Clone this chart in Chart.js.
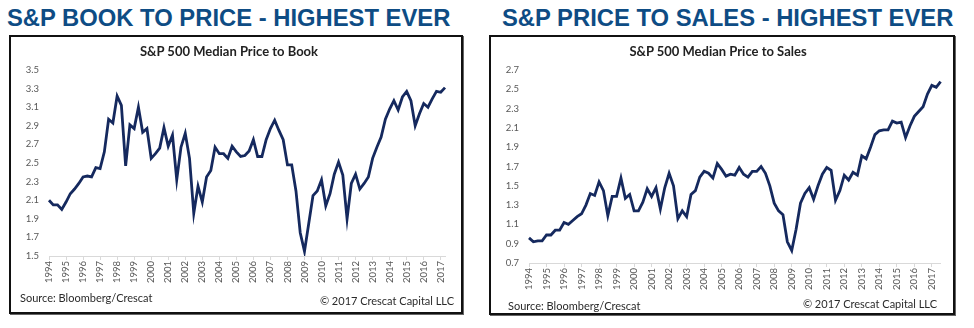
<!DOCTYPE html>
<html>
<head>
<meta charset="utf-8">
<script src="https://cdn.jsdelivr.net/npm/chart.js@4/dist/chart.umd.min.js"></script>
<style>
  html, body { margin: 0; padding: 0; background: #fff; }
  body { width: 974px; height: 328px; position: relative; overflow: hidden; }
  .headline {
    position: absolute; top: 4px; margin: 0;
    font: bold 23.8px "Liberation Sans", Arial, sans-serif;
    color: #0e4c84; white-space: nowrap; line-height: 28px;
  }
  .panel {
    position: absolute; top: 35px; box-sizing: border-box;
    border: 2px solid #111; box-shadow: 1px 1px 0 #666;
    background: #fff;
  }
  .panel canvas { position: absolute; }
  .inner-title {
    position: absolute; font: bold 13px Lato, "Open Sans", sans-serif;
    color: #222; white-space: nowrap; transform: translate(-50%, -50%);
  }
  .note {
    position: absolute; font: 11px Lato, "Open Sans", sans-serif;
    color: #2a2a2a; white-space: nowrap; transform: translateY(-50%);
  }
</style>
</head>
<body>
<div class="headline" style="left:7px">S&amp;P BOOK TO PRICE - HIGHEST EVER</div>
<div class="headline" style="left:502px">S&amp;P PRICE TO SALES - HIGHEST EVER</div>

<div class="panel" style="left:9px; width:454px; height:279px">
  <canvas id="pbChart" width="450" height="275" style="left:0;top:0;width:450px;height:275px"></canvas>
</div>
<div class="panel" style="left:489px; width:466px; height:280px">
  <canvas id="psChart" width="462" height="276" style="left:0;top:0;width:462px;height:276px"></canvas>
</div>

<div class="inner-title" style="left:229px; top:51px">S&amp;P 500 Median Price to Book</div>
<div class="inner-title" style="left:718px; top:51px">S&amp;P 500 Median Price to Sales</div>
<div class="note" style="left:20px; top:297px">Source: Bloomberg/Crescat</div>
<div class="note" style="right:520px; top:300px">© 2017 Crescat Capital LLC</div>
<div class="note" style="left:508px; top:305px">Source: Bloomberg/Crescat</div>
<div class="note" style="right:37px; top:303px">© 2017 Crescat Capital LLC</div>

<script>
// Years shown on the category axis (one label per year, quarterly points)
const years = [1994, 1995, 1996, 1997, 1998, 1999, 2000, 2001, 2002, 2003, 2004, 2005,
               2006, 2007, 2008, 2009, 2010, 2011, 2012, 2013, 2014, 2015, 2016, 2017];

// S&P 500 median price to book, quarterly from 1994 Q1
const priceToBook = [
  2.10, 2.05, 2.05, 2.00, 2.08, 2.17, 2.22, 2.28, 2.35, 2.36, 2.35, 2.45,
  2.44, 2.62, 2.97, 2.93, 3.22, 3.12, 2.47, 2.91, 2.87, 3.10, 2.83, 2.87,
  2.55, 2.60, 2.66, 2.88, 2.68, 2.80, 2.32, 2.67, 2.82, 2.55, 1.96, 2.25,
  2.08, 2.35, 2.42, 2.67, 2.60, 2.60, 2.55, 2.68, 2.62, 2.57, 2.58, 2.63,
  2.75, 2.57, 2.57, 2.75, 2.87, 2.96, 2.85, 2.75, 2.48, 2.48, 2.20, 1.75,
  1.55, 1.85, 2.15, 2.20, 2.32, 2.04, 2.17, 2.38, 2.51, 2.37, 1.90, 2.28,
  2.38, 2.22, 2.28, 2.35, 2.55, 2.67, 2.78, 2.97, 3.08, 3.17, 3.07, 3.21,
  3.27, 3.17, 2.90, 3.03, 3.14, 3.10, 3.19, 3.27, 3.26, 3.31
];

// S&P 500 median price to sales, quarterly from 1994 Q1
const priceToSales = [
  0.96, 0.92, 0.93, 0.93, 0.99, 0.99, 1.04, 1.04, 1.12, 1.10, 1.14, 1.18,
  1.21, 1.30, 1.42, 1.40, 1.54, 1.45, 1.19, 1.39, 1.39, 1.58, 1.37, 1.41,
  1.24, 1.24, 1.33, 1.47, 1.39, 1.48, 1.26, 1.48, 1.63, 1.50, 1.16, 1.24,
  1.18, 1.41, 1.45, 1.59, 1.65, 1.63, 1.58, 1.73, 1.67, 1.60, 1.62, 1.61,
  1.69, 1.62, 1.59, 1.65, 1.65, 1.70, 1.63, 1.50, 1.32, 1.24, 1.20, 0.92,
  0.83, 1.05, 1.32, 1.42, 1.48, 1.36, 1.50, 1.62, 1.69, 1.66, 1.35, 1.45,
  1.61, 1.56, 1.64, 1.61, 1.81, 1.78, 1.90, 2.03, 2.07, 2.08, 2.08, 2.17,
  2.15, 2.16, 2.00, 2.12, 2.22, 2.27, 2.32, 2.45, 2.54, 2.52, 2.58
];

// Y axis ranges and step
const pbAxis = { min: 1.5, max: 3.5, step: 0.2 };
const psAxis = { min: 0.7, max: 2.7, step: 0.2 };

const LINE_COLOR = '#15295e';
const TICK_COLOR = '#595959';
const AXIS_COLOR = '#d9d9d9';
const TICK_FONT = { family: 'Lato, "Open Sans", sans-serif', size: 9.5 };

function quarterLabels(series) {
  return series.map((_, i) => years[Math.floor(i / 4)] + ' Q' + (i % 4 + 1));
}

function makeChart(id, series, axis, geom) {
  const labels = quarterLabels(series);
  return new Chart(document.getElementById(id), {
    type: 'line',
    data: {
      labels,
      datasets: [{
        data: series,
        borderColor: LINE_COLOR,
        borderWidth: 2.8,
        pointRadius: 0,
        tension: 0,
        fill: false
      }]
    },
    options: {
      responsive: false,
      animation: false,
      events: [],
      layout: { padding: { top: geom.top, right: geom.right, left: 0, bottom: 0 } },
      plugins: { legend: { display: false }, title: { display: false }, tooltip: { enabled: false } },
      scales: {
        x: {
          type: 'category',
          offset: false,
          grid: {
            display: true,
            drawOnChartArea: false,
            drawTicks: true,
            tickLength: 4,
            color: ctx => (ctx.index % 4 === 0 ? AXIS_COLOR : 'rgba(0,0,0,0)')
          },
          border: { display: true, color: AXIS_COLOR, width: 1 },
          ticks: {
            autoSkip: false,
            minRotation: 90,
            maxRotation: 90,
            padding: 1,
            color: TICK_COLOR,
            font: TICK_FONT,
            callback: (v, i) => (i % 4 === 0 ? String(years[i / 4]) : '')
          },
          afterFit: s => { s.height = geom.xHeight; }
        },
        y: {
          min: axis.min,
          max: axis.max,
          grid: { display: false, drawTicks: false },
          border: { display: false },
          ticks: {
            stepSize: axis.step,
            padding: 10,
            color: TICK_COLOR,
            font: TICK_FONT,
            callback: v => Number(v).toFixed(1)
          },
          afterFit: s => { s.width = geom.yWidth; }
        }
      }
    }
  });
}

makeChart('pbChart', priceToBook, pbAxis, { top: 33, right: 16, xHeight: 56, yWidth: 38 });
makeChart('psChart', priceToSales, psAxis, { top: 33, right: 10, xHeight: 50, yWidth: 38 });
</script>
</body>
</html>
